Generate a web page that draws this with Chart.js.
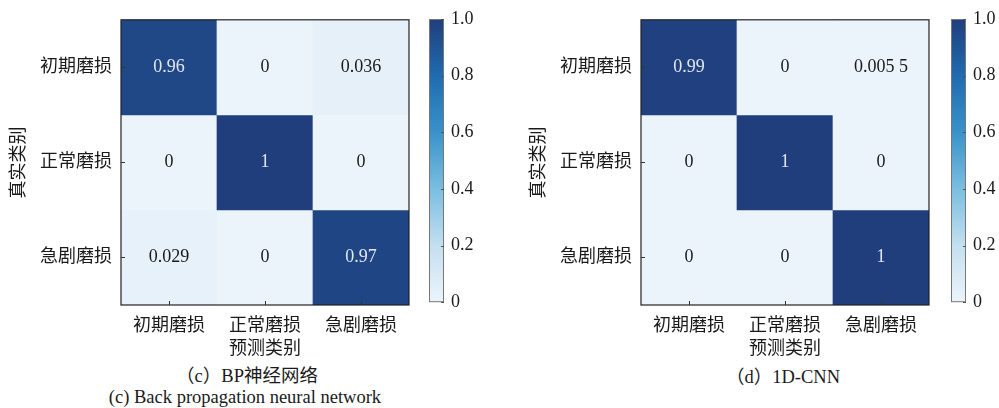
<!DOCTYPE html>
<html>
<head>
<meta charset="utf-8">
<script src="https://cdn.jsdelivr.net/npm/chart.js@4.4.0/dist/chart.umd.min.js"></script>
<style>
  body { margin: 0; background: #fff; width: 999px; height: 408px; overflow: hidden; position: relative; }
  canvas { position: absolute; top: 0; }
  .cap { position: absolute; transform: translateX(-50%); white-space: nowrap; font-size: 18.5px; line-height: 20px; color: #1a1a1a;
         font-family: "Liberation Serif", "Noto Sans CJK SC", serif; }
</style>
</head>
<body>
<canvas id="bpHeat" width="420" height="363" style="left:0"></canvas>
<canvas id="bpBar" width="80" height="320" style="left:420px"></canvas>
<canvas id="cnnHeat" width="420" height="363" style="left:520px"></canvas>
<canvas id="cnnBar" width="57" height="320" style="left:942px"></canvas>
<div class="cap" style="left:247px;top:366px">（c）BP神经网络</div>
<div class="cap" style="left:245px;top:387px">(c) Back propagation neural network</div>
<div class="cap" style="left:783px;top:367px">（d）1D-CNN</div>
<script>
const classLabels = ["初期磨损", "正常磨损", "急剧磨损"];
// rows = true class, columns = predicted class
const bpMatrix = [
  [0.96, 0, 0.036],
  [0, 1, 0],
  [0.029, 0, 0.97],
];
const cnnMatrix = [
  [0.99, 0, 0.0055],
  [0, 1, 0],
  [0, 0, 1],
];
const colorbarTicks = [0, 0.2, 0.4, 0.6, 0.8, 1.0];

// blues colormap (value -> rgb)
const cmap = [
  [0, [236, 244, 251]],
  [0.2, [196, 223, 240]],
  [0.4, [122, 190, 224]],
  [0.6, [58, 146, 202]],
  [0.8, [31, 108, 176]],
  [1.0, [32, 62, 124]],
];

function colorFor(v) {
  for (let i = 1; i < cmap.length; i++) {
    if (v <= cmap[i][0]) {
      let t = (v - cmap[i - 1][0]) / (cmap[i][0] - cmap[i - 1][0]);
      let a = cmap[i - 1][1], b = cmap[i][1];
      let c = a.map((x, k) => Math.round(x + (b[k] - x) * t));
      return `rgb(${c[0]},${c[1]},${c[2]})`;
    }
  }
  let c = cmap[cmap.length - 1][1];
  return `rgb(${c[0]},${c[1]},${c[2]})`;
}

function formatValue(v) {
  let s = String(v);
  // journal style: group decimals in threes
  let parts = s.split(".");
  if (parts.length > 1 && parts[1].length > 3) {
    s = parts[0] + "." + parts[1].slice(0, 3) + " " + parts[1].slice(3);
  }
  return s;
}

const labelFont = { family: '"Liberation Serif", "Noto Sans CJK SC"', size: 18 };
const textColor = "#1a1a1a";

const heatmapDecor = {
  id: "heatmapDecor",
  afterDatasetsDraw(chart, args, opts) {
    const { ctx, chartArea: a, scales: { x, y } } = chart;
    ctx.save();
    ctx.font = '18px "Liberation Serif"';
    ctx.textAlign = "center";
    ctx.textBaseline = "middle";
    opts.matrix.forEach((row, r) => {
      row.forEach((v, c) => {
        ctx.fillStyle = v > 0.5 ? "#e2e8f0" : "#1a1a1a";
        ctx.fillText(formatValue(v), x.getPixelForValue(c), y.getPixelForValue(r + 0.5));
      });
    });
    ctx.strokeStyle = "#222";
    ctx.lineWidth = 1.2;
    ctx.strokeRect(a.left, a.top, a.width, a.height);
    // inward tick marks
    ctx.lineWidth = 1;
    ctx.strokeStyle = "#333";
    ctx.beginPath();
    classLabels.forEach((lab, i) => {
      let px = Math.round(x.getPixelForValue(i)) + 0.5;
      ctx.moveTo(px, a.bottom);
      ctx.lineTo(px, a.bottom - 4);
      let py = Math.round(y.getPixelForValue(i + 0.5)) + 0.5;
      ctx.moveTo(a.left, py);
      ctx.lineTo(a.left + 4, py);
    });
    ctx.stroke();
    ctx.restore();
  },
};

function createHeatmap(chartId, matrix) {
  let chart = document.getElementById(chartId);
  new Chart(chart, {
    type: "bar",
    data: {
      labels: classLabels,
      datasets: matrix.map((row, r) => {
        return {
          data: row.map(() => [r, r + 1]),
          backgroundColor: row.map((v) => colorFor(v)),
          borderWidth: 0,
          barPercentage: 1,
          categoryPercentage: 1,
          grouped: false,
        };
      }),
    },
    options: {
      responsive: false,
      animation: false,
      layout: { padding: { top: 19, right: 11, left: 0, bottom: 0 } },
      plugins: {
        legend: { display: false },
        tooltip: { enabled: false },
        heatmapDecor: { matrix: matrix },
      },
      scales: {
        x: {
          grid: { display: false, drawTicks: false },
          border: { display: false },
          ticks: { padding: 10, font: labelFont, color: textColor },
          title: { display: true, text: "预测类别", font: labelFont, color: textColor, padding: { top: 0, bottom: 3 } },
          afterFit: (scale) => {
            scale.height = 58;
          },
        },
        y: {
          min: 0,
          max: 3,
          reverse: true,
          grid: { display: false, drawTicks: false },
          border: { display: false },
          afterBuildTicks: (scale) => {
            scale.ticks = [0.5, 1.5, 2.5].map((v) => ({ value: v }));
          },
          ticks: {
            padding: 9,
            font: labelFont,
            color: textColor,
            callback: (value) => classLabels[Math.floor(value)],
          },
          title: { display: true, text: "真实类别", font: labelFont, color: textColor, padding: { top: 8, bottom: 0 } },
          afterFit: (scale) => {
            scale.width = 121;
          },
        },
      },
    },
    plugins: [heatmapDecor],
  });
}

const colorbarFrame = {
  id: "colorbarFrame",
  afterDatasetsDraw(chart) {
    const { ctx, chartArea: a, scales: { y } } = chart;
    ctx.save();
    ctx.strokeStyle = "#777";
    ctx.lineWidth = 1;
    ctx.strokeRect(a.left + 0.5, a.top + 0.5, a.width - 1, a.height - 1);
    ctx.strokeStyle = "#555";
    ctx.beginPath();
    colorbarTicks.forEach((v) => {
      let py = Math.round(y.getPixelForValue(v)) + 0.5;
      ctx.moveTo(a.right, py);
      ctx.lineTo(a.right - 3, py);
    });
    ctx.stroke();
    ctx.restore();
  },
};

function createColorbar(chartId) {
  let chart = document.getElementById(chartId);
  let barWidth = 15;
  new Chart(chart, {
    type: "bar",
    data: {
      labels: [""],
      datasets: [
        {
          data: [[0, 1]],
          borderWidth: 0,
          barPercentage: 1,
          categoryPercentage: 1,
          backgroundColor: (context) => {
            let a = context.chart.chartArea;
            if (!a) return null;
            let g = context.chart.ctx.createLinearGradient(0, a.bottom, 0, a.top);
            cmap.forEach((stop) => g.addColorStop(stop[0], colorFor(stop[0])));
            return g;
          },
        },
      ],
    },
    options: {
      responsive: false,
      animation: false,
      layout: { padding: { top: 19, bottom: 15, left: 9, right: 0 } },
      plugins: { legend: { display: false }, tooltip: { enabled: false } },
      scales: {
        x: { display: false },
        y: {
          position: "right",
          min: 0,
          max: 1,
          grid: { display: false, drawTicks: false },
          border: { display: false },
          afterBuildTicks: (scale) => {
            scale.ticks = colorbarTicks.map((v) => ({ value: v }));
          },
          ticks: {
            padding: 7,
            font: { family: '"Liberation Serif"', size: 18 },
            color: textColor,
            callback: (value) => (value === 0 ? "0" : value.toFixed(1)),
          },
          afterFit: (scale) => {
            scale.width = chart.width - 9 - barWidth;
          },
        },
      },
    },
    plugins: [colorbarFrame],
  });
}

createHeatmap("bpHeat", bpMatrix);
createColorbar("bpBar");
createHeatmap("cnnHeat", cnnMatrix);
createColorbar("cnnBar");
</script>
</body>
</html>
